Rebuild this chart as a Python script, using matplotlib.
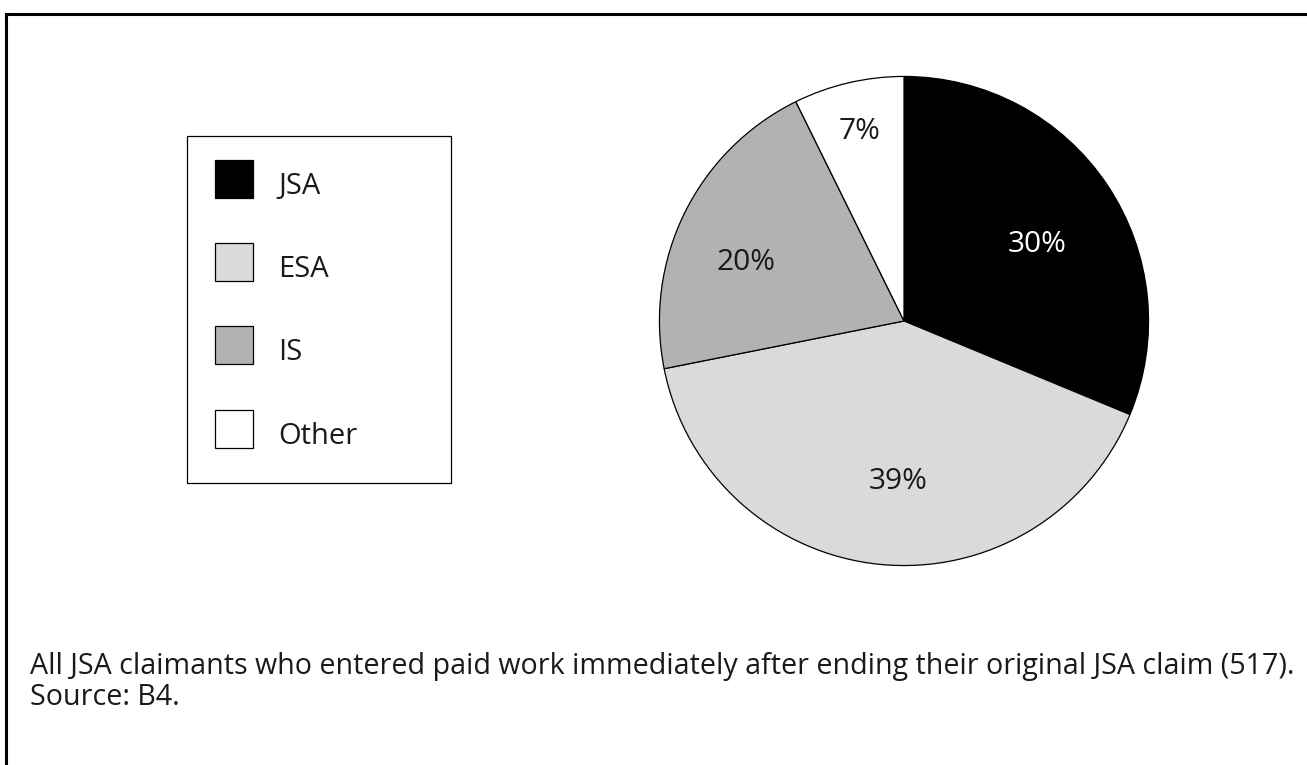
import matplotlib
matplotlib.use('Agg')
import matplotlib.pyplot as plt
from matplotlib.lines import Line2D

# Benefit held by claimants who went straight into paid work
categories = ["JSA", "ESA", "IS", "Other"]
shares = [30, 39, 20, 7]
colours = ["#000000", "#d9dadc", "#b1b2b4", "#ffffff"]
label_colours = ["white", "#1a1a1a", "#1a1a1a", "#1a1a1a"]

# label anchor points inside the pie (radius units)
label_pos = [(0.543, 0.312), (-0.024, -0.656), (-0.648, 0.239), (-0.182, 0.773)]

caption = ("All JSA claimants who entered paid work immediately after ending their original JSA claim (517).\n"
           "Source: B4.")

W, H = 1307, 765
fig = plt.figure(figsize=(W / 100, H / 100), dpi=100)
fig.patch.set_facecolor("white")

# pie centre (904, 321) px, radius 247 px
cx, cy, r = 904, 321, 247
ax = fig.add_axes([(cx - r) / W, (H - cy - r) / H, 2 * r / W, 2 * r / H])
wedges, texts = ax.pie(shares, colors=colours, startangle=90, counterclock=False,
                       radius=1, wedgeprops=dict(edgecolor="black", linewidth=0.9),
                       labels=[f"{v}%" for v in shares], labeldistance=0.6,
                       textprops=dict(fontsize=21.5, family="Open Sans"))
for t, (x, y), c in zip(texts, label_pos, label_colours):
    t.set_position((x, y))
    t.set_ha("center")
    t.set_va("center")
    t.set_color(c)
ax.set_xlim(-1.01, 1.01)
ax.set_ylim(-1.01, 1.01)
ax.axis("off")

# legend box on the left, square swatches
handles = [Line2D([], [], ls="", marker="s", markersize=27.7, markerfacecolor=c,
                  markeredgecolor="black", markeredgewidth=0.9) for c in colours]
lx0, lx1, ly1 = 187, 451, 483
fs = 21
leg = fig.legend(handles, categories, loc="lower left",
                 bbox_to_anchor=(lx0 / W, (H - ly1) / H, (lx1 - lx0) / W, 0.3),
                 mode="expand", borderaxespad=0, fancybox=False,
                 edgecolor="black", framealpha=1,
                 prop=dict(family="Open Sans", size=fs),
                 handlelength=1.32, handleheight=1.8, handletextpad=0.85,
                 labelspacing=1.44, borderpad=0.96)
leg.get_frame().set_linewidth(0.9)
for t in leg.get_texts():
    t.set_color("#1a1a1a")

# caption under the chart
fig.text(30 / W, 1 - 652 / H, caption, ha="left", va="top", fontsize=20.6,
         family="Open Sans", color="#1a1a1a", linespacing=1.1)

# frame lines along the top and left edge
fig.add_artist(Line2D([6 / W, 1], [1 - 14 / H, 1 - 14 / H], color="black", linewidth=2.2,
                      solid_capstyle="projecting"))
fig.add_artist(Line2D([6 / W, 6 / W], [0, 1 - 14 / H], color="black", linewidth=2.2,
                      solid_capstyle="projecting"))

fig.savefig("out.png", dpi=100, facecolor="white")
